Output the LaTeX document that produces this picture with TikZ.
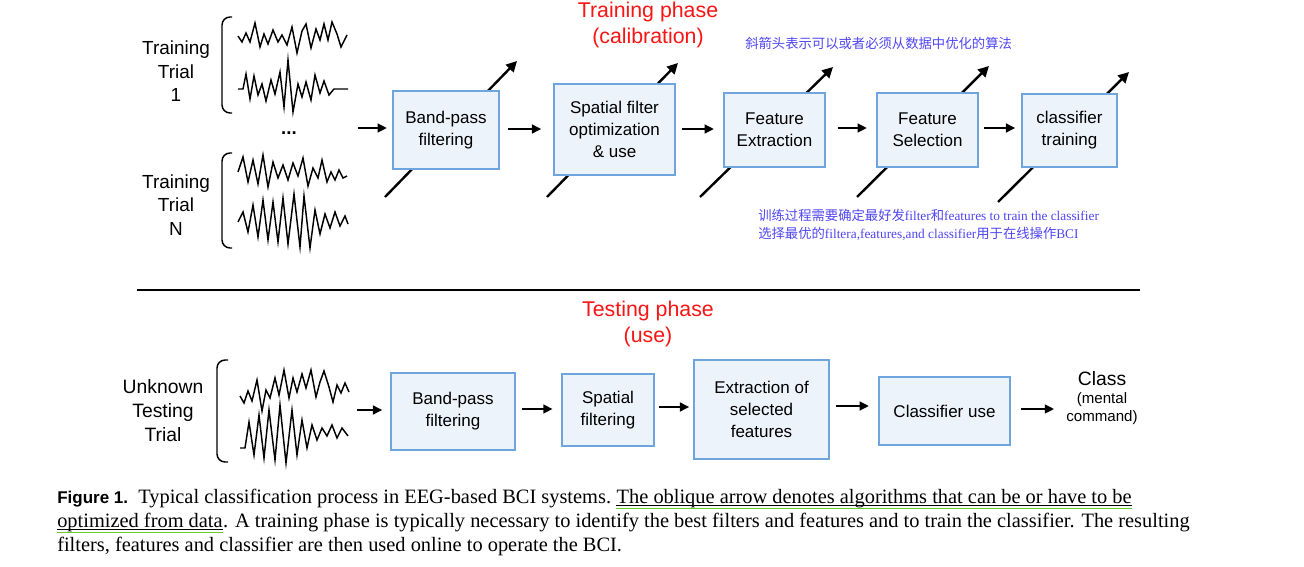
\documentclass[tikz,border=0pt]{standalone}
\usepackage{fontspec}
\setmainfont{Liberation Sans}
\newfontfamily\capfont{Liberation Serif}
\newfontfamily\cjk{Noto Sans CJK SC}
\usetikzlibrary{arrows.meta}
\definecolor{boxfill}{RGB}{237,243,250}
\definecolor{boxdraw}{RGB}{110,165,220}
\definecolor{note}{RGB}{80,70,245}
\definecolor{phase}{RGB}{250,20,20}
\definecolor{ugreen}{RGB}{100,205,40}
\begin{document}
\begin{tikzpicture}[x=0.75pt,y=-0.75pt,
  stagebox/.style={draw=boxdraw, fill=boxfill, line width=1.1pt, align=center, inner sep=0pt,
    font=\fontsize{12.75}{16.5}\selectfont},
  bx/.style 2 args={stagebox, minimum width=#1*0.75pt, minimum height=#2*0.75pt},
  arr/.style={line width=2pt, -{Triangle[length=7pt,width=6.5pt]}},
  obl/.style={line width=1.8pt, -{Triangle[length=8pt,width=8pt]}},
  wave/.style={line width=1.1pt, line join=miter, miter limit=20},
  brk/.style={line width=1.1pt, rounded corners=6pt},
  lbl/.style={align=center, inner sep=0pt, font=\fontsize{14.2}{17.6}\selectfont},
  phs/.style={align=center, inner sep=0pt, text=phase, font=\fontsize{16}{19.5}\selectfont},
  nt/.style={anchor=west, inner sep=0pt, text=note, font=\fontsize{10}{12}\selectfont},
  captxt/.style={anchor=base west, inner sep=0pt, font=\capfont\fontsize{15.3}{18}\selectfont},
  uline/.style={line width=0.6pt},
  gline/.style={line width=1pt, draw=ugreen}]
\useasboundingbox (0,0) rectangle (1304,567);
\fill[white] (0,0) rectangle (1304,567);

% ---------- Training phase ----------
\node[phs] (tp) at (648,25) {Training phase\\(calibration)};
\node[lbl] (tr1) at (176,71.5) {Training\\Trial\\1};
\node[lbl] (trn) at (176,205) {Training\\Trial\\N};
\node[inner sep=0pt, font=\fontsize{14}{16}\selectfont\bfseries] (dots) at (289,133) {...};

\draw[brk] (232,17) -- (222,17) -- (222,113) -- (232,113);
\draw[brk] (232,153) -- (222,153) -- (222,248) -- (232,248);

\draw[wave] (238,36) -- (242,42) -- (246,33) -- (250,42) -- (255,23) -- (260,47) -- (264,34) -- (268,44) -- (273,30) -- (278,42) -- (282,35) -- (287,45) -- (292,27) -- (297,53) -- (302,31) -- (306,24) -- (311,48) -- (316,29) -- (320,40) -- (324,24) -- (328,40) -- (332,22) -- (337,34) -- (341,47) -- (347,35);
\draw[wave] (238,89) -- (243,89) -- (246,74) -- (250,99) -- (254,76) -- (258,95) -- (262,84) -- (266,101) -- (271,80) -- (275,94) -- (280,72) -- (284,107) -- (288,60) -- (293,112) -- (298,84) -- (302,97) -- (306,82) -- (311,100) -- (315,75) -- (320,93) -- (324,81) -- (329,95) -- (334,89) -- (348,89);
\draw[wave] (238,172) -- (243,157) -- (248,182) -- (253,160) -- (258,184) -- (263,155) -- (268,187) -- (273,162) -- (278,178) -- (283,165) -- (288,180) -- (293,163) -- (298,176) -- (303,158) -- (308,186) -- (313,168) -- (318,178) -- (322,160) -- (327,182) -- (331,172) -- (335,180) -- (339,170) -- (343,178) -- (347,176);
\draw[wave] (238,222) -- (243,212) -- (248,232) -- (253,205) -- (258,237) -- (263,200) -- (268,240) -- (273,202) -- (278,242) -- (283,198) -- (288,244) -- (294,194) -- (300,247) -- (304,196) -- (310,248) -- (315,210) -- (320,234) -- (325,214) -- (330,228) -- (335,212) -- (340,226) -- (345,216) -- (348,224);

% oblique arrows (behind boxes)
\coordinate (o1a) at (385,197); \coordinate (o1b) at (517,61);
\coordinate (o2a) at (547,197); \coordinate (o2b) at (678,63);
\coordinate (o3a) at (700,197); \coordinate (o3b) at (833,67);
\coordinate (o4a) at (857,197); \coordinate (o4b) at (989,66);
\coordinate (o5a) at (998,202); \coordinate (o5b) at (1129,72);
\foreach \i in {1,...,5} {\draw[obl] (o\i a) -- (o\i b);}

\node[bx={106}{78}] (T1) at (446,130) {Band-pass\\filtering};
\node[bx={121}{91}] (T2) at (614.5,129.5) {Spatial filter\\optimization\\\& use};
\node[bx={101}{74}] (T3) at (774.5,130) {Feature\\Extraction};
\node[bx={101}{74}] (T4) at (927.5,130) {Feature\\Selection};
\node[bx={95}{73}] (T5) at (1069.5,130.5) {classifier\\training};

\coordinate (tin) at (358,128);
\draw[arr, shorten >=4pt] (tin) -- (tin -| T1.west);
\draw[arr, shorten <=6.5pt, shorten >=9pt] (T1.east |- 0,129) -- (T2.west |- 0,129);
\draw[arr, shorten <=5pt, shorten >=7pt] (T2.east |- 0,129) -- (T3.west |- 0,129);
\draw[arr, shorten <=9pt, shorten >=7pt] (T3.east |- 0,128) -- (T4.west |- 0,128);
\draw[arr, shorten <=4pt, shorten >=4.5pt] (T4.east |- 0,128) -- (T5.west |- 0,128);

\node[nt] (n1) at (745,43) {\cjk 斜箭头表示可以或者必须从数据中优化的算法};
\node[nt] (n2) at (758,215) {{\cjk 训练过程需要确定最好发}{\capfont filter}{\cjk 和}{\capfont features to train the classifier}};
\node[nt] (n3) at (758,234) {{\cjk 选择最优的}{\capfont filtera,features,and classifier}{\cjk 用于在线操作}{\capfont BCI}};

% ---------- separator ----------
\coordinate (sepL) at (137,290); \coordinate (sepR) at (1140,290);
\draw[line width=2.2pt] (sepL) -- (sepR);

% ---------- Testing phase ----------
\node[phs] (up) at (648,324) {Testing phase\\(use)};
\node[lbl, font=\fontsize{14.5}{18}\selectfont] (ut) at (163,411) {Unknown\\Testing\\Trial};
\draw[brk] (228,360) -- (217,360) -- (217,462) -- (228,462);
\draw[wave] (240,396) -- (244,403) -- (248,391) -- (252,401) -- (257,380) -- (262,411) -- (266,390) -- (270,398) -- (275,378) -- (279,395) -- (284,370) -- (289,398) -- (293,378) -- (297,392) -- (302,374) -- (306,388) -- (311,370) -- (316,397) -- (320,382) -- (324,371) -- (329,387) -- (333,402) -- (337,385) -- (341,393) -- (345,383) -- (349,392);
\draw[wave] (240,448) -- (245,448) -- (249,422) -- (254,455) -- (259,415) -- (264,458) -- (269,410) -- (275,460) -- (280,405) -- (286,463) -- (292,410) -- (297,455) -- (302,420) -- (307,448) -- (312,425) -- (317,440) -- (322,428) -- (327,436) -- (332,425) -- (337,438) -- (342,428) -- (348,436);

\node[bx={124}{77}] (B1) at (453,411.5) {Band-pass\\filtering};
\node[bx={92}{72}] (B2) at (608,410) {Spatial\\filtering};
\node[bx={135}{99}] (B3) at (761.5,409.5) {Extraction of\\selected\\features};
\node[bx={131}{68}] (B4) at (944.5,411) {Classifier use};
\node[inner sep=0pt, font=\fontsize{14.5}{16}\selectfont] (cls) at (1102,379) {Class};
\node[inner sep=0pt, align=center, font=\fontsize{11.3}{13.5}\selectfont] (cmd) at (1102,409) {(mental\\command)};

\coordinate (bin) at (357,410);
\draw[arr, shorten >=6pt] (bin) -- (bin -| B1.west);
\draw[arr, shorten <=4.5pt, shorten >=6.5pt] (B1.east |- 0,409) -- (B2.west |- 0,409);
\draw[arr, shorten <=3pt, shorten >=3pt] (B2.east |- 0,407) -- (B3.west |- 0,407);
\draw[arr, shorten <=5pt, shorten >=7pt] (B3.east |- 0,406) -- (B4.west |- 0,406);
\draw[arr, shorten <=8pt, shorten >=9pt] (B4.east |- 0,409) -- (cmd.west |- 0,409);

% ---------- caption ----------
\node[captxt] (c1a) at (57,503) {{\rmfamily\bfseries\fontsize{12.75}{16}\selectfont Figure 1.}\enspace Typical classification process in EEG-based BCI systems.};
\node[captxt] (c1b) at ([xshift=3.8pt]c1a.base east) {The oblique arrow denotes algorithms that can be or have to be};
\draw[uline] ([yshift=-2pt]c1b.base west) -- ([yshift=-2pt]c1b.base east);
\draw[gline] ([yshift=-4pt]c1b.base west) -- ([yshift=-4pt]c1b.base east);
\node[captxt] (c2a) at (57,527) {optimized from data};
\draw[uline] ([yshift=-2pt]c2a.base west) -- ([yshift=-2pt]c2a.base east);
\draw[gline] ([yshift=-4pt]c2a.base west) -- ([yshift=-4pt]c2a.base east);
\node[captxt] (c2b) at (c2a.base east) {. A training phase is typically necessary to identify the best filters and features and to train the classifier. The resulting};
\node[captxt] (c3) at (57,551) {filters, features and classifier are then used online to operate the BCI.};
\end{tikzpicture}
\end{document}
